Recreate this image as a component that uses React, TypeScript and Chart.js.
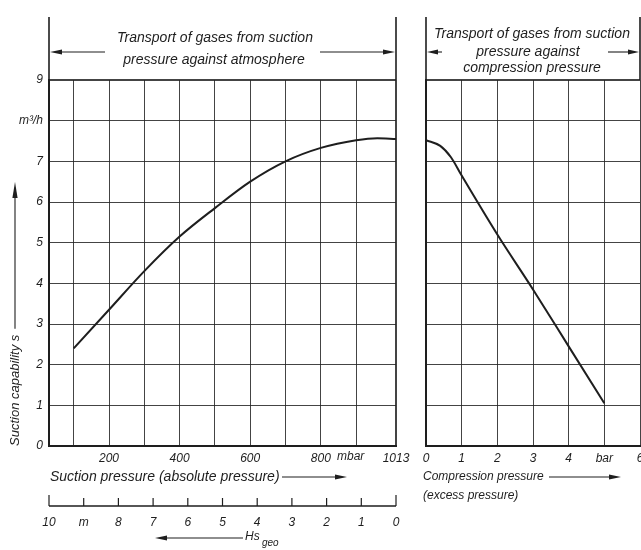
import React, { useEffect, useRef } from "react";
import { Chart, registerables } from "chart.js";

Chart.register(...registerables);

// ---- data ----
const leftPressure = [100, 200, 300, 400, 500, 600, 700, 800, 900, 960, 1013];
const leftSuction = [2.4, 3.35, 4.3, 5.15, 5.85, 6.5, 7.0, 7.33, 7.52, 7.57, 7.55];
const leftTickValues = [100, 200, 300, 400, 500, 600, 700, 800, 900, 1013];
const leftTickLabels = ["", "200", "", "400", "", "600", "", "800", "", "1013"];

const rightPressure = [0, 0.4, 0.7, 1, 2, 3, 4, 5];
const rightSuction = [7.52, 7.38, 7.1, 6.65, 5.2, 3.85, 2.45, 1.05];
const rightTickLabels = ["0", "1", "2", "3", "4", "bar", "6"];

const yTickLabels = ["0", "1", "2", "3", "4", "5", "6", "7", "m³/h", "9"];

const hsTickValues = [0, 1, 2, 3, 4, 5, 6, 7, 8, 9, 10];
const hsTickLabels = ["0", "1", "2", "3", "4", "5", "6", "7", "8", "m", "10"];

const FONT = "'Liberation Sans', Arial, sans-serif";
const INK = "#1e1e1e";
const GRID = "rgba(35,35,35,0.85)";

function arrow(ctx: CanvasRenderingContext2D, x1: number, y1: number, x2: number, y2: number, head = 12, half = 2.6) {
  ctx.save();
  ctx.strokeStyle = INK;
  ctx.fillStyle = INK;
  ctx.lineWidth = 1.1;
  const a = Math.atan2(y2 - y1, x2 - x1);
  ctx.beginPath();
  ctx.moveTo(x1, y1);
  ctx.lineTo(x2 - Math.cos(a) * head * 0.8, y2 - Math.sin(a) * head * 0.8);
  ctx.stroke();
  ctx.translate(x2, y2);
  ctx.rotate(a);
  ctx.beginPath();
  ctx.moveTo(0, 0);
  ctx.lineTo(-head, -half);
  ctx.lineTo(-head, half);
  ctx.closePath();
  ctx.fill();
  ctx.restore();
}

function vline(ctx: CanvasRenderingContext2D, x: number, y1: number, y2: number, w = 1.6) {
  ctx.save();
  ctx.strokeStyle = INK;
  ctx.lineWidth = w;
  ctx.beginPath();
  ctx.moveTo(x, y1);
  ctx.lineTo(x, y2);
  ctx.stroke();
  ctx.restore();
}

const leftDecor = {
  id: "leftDecor",
  afterDraw(chart: any) {
    const ctx: CanvasRenderingContext2D = chart.ctx;
    const { left, right, top, bottom } = chart.chartArea;
    ctx.save();
    // top bracket
    vline(ctx, left, 17, top);
    vline(ctx, right, 17, top);
    arrow(ctx, left + 56, 52, left + 1, 52);
    arrow(ctx, right - 76, 52, right - 1, 52);
    ctx.fillStyle = INK;
    ctx.font = `italic 14px ${FONT}`;
    ctx.textAlign = "center";
    ctx.textBaseline = "middle";
    ctx.fillText("Transport of gases from suction", 215, 38);
    ctx.fillText("pressure against atmosphere", 214, 60);

    // mbar unit
    ctx.font = `italic 12px ${FONT}`;
    ctx.textAlign = "left";
    ctx.fillText("mbar", 337, bottom + 11);

    // x title
    ctx.font = `italic 14px ${FONT}`;
    ctx.fillText("Suction pressure (absolute pressure)", 50, 477);
    arrow(ctx, 282, 477, 347, 477);

    // Hs geo scale
    const hs = chart.scales.xh;
    const yLine = 506;
    ctx.strokeStyle = INK;
    ctx.lineWidth = 1.5;
    ctx.beginPath();
    ctx.moveTo(hs.getPixelForValue(10), yLine);
    ctx.lineTo(hs.getPixelForValue(0), yLine);
    ctx.stroke();
    ctx.lineWidth = 1.2;
    ctx.font = `italic 12px ${FONT}`;
    ctx.textAlign = "center";
    hsTickValues.forEach((v, i) => {
      const x = hs.getPixelForValue(v);
      const end = v === 0 || v === 10;
      ctx.beginPath();
      ctx.moveTo(x, yLine);
      ctx.lineTo(x, yLine - (end ? 11 : 8));
      ctx.stroke();
      ctx.fillText(hsTickLabels[i], x, 523);
    });
    arrow(ctx, 243, 538, 155, 538);
    ctx.textAlign = "left";
    ctx.font = `italic 12px ${FONT}`;
    ctx.fillText("Hs", 245, 537);
    ctx.font = `italic 10px ${FONT}`;
    ctx.fillText("geo", 262, 543);

    // y title
    ctx.save();
    ctx.translate(15, 446);
    ctx.rotate(-Math.PI / 2);
    ctx.font = `italic 13px ${FONT}`;
    ctx.textAlign = "left";
    ctx.textBaseline = "middle";
    ctx.fillText("Suction capability s", 0, 0);
    const w = ctx.measureText("Suction capability s").width;
    arrow(ctx, w + 6, 0, 264, 0, 16, 2.6);
    ctx.restore();
    ctx.restore();
  },
};

const rightDecor = {
  id: "rightDecor",
  afterDraw(chart: any) {
    const ctx: CanvasRenderingContext2D = chart.ctx;
    const { left, right, top } = chart.chartArea;
    ctx.save();
    vline(ctx, left, 17, top);
    vline(ctx, right, 17, top);
    arrow(ctx, left + 16, 52, left + 1, 52, 11);
    arrow(ctx, left + 182, 52, right - 1, 52, 11);
    ctx.fillStyle = INK;
    ctx.font = `italic 14px ${FONT}`;
    ctx.textAlign = "center";
    ctx.textBaseline = "middle";
    ctx.fillText("Transport of gases from suction", 132, 34);
    ctx.fillText("pressure against", 128, 52);
    ctx.fillText("compression pressure", 132, 68);

    ctx.textAlign = "left";
    ctx.font = `italic 12px ${FONT}`;
    ctx.fillText("Compression pressure", 23, 477);
    arrow(ctx, 149, 477, 221, 477);
    ctx.fillText("(excess pressure)", 23, 496);
    ctx.restore();
  },
};

function commonY(showLabels: boolean, width: number) {
  return {
    type: "linear",
    min: 0,
    max: 9,
    ticks: {
      display: showLabels,
      stepSize: 1,
      padding: 6,
      color: INK,
      font: { family: FONT, size: 12, style: "italic" },
      callback: (v: number) => yTickLabels[v] ?? "",
    },
    grid: {
      color: GRID,
      lineWidth: (c: any) => (c.tick && c.tick.value === 9 ? 2 : 1),
      drawTicks: false,
    },
    border: { display: true, color: INK, width: 2 },
    afterFit: (s: any) => {
      s.width = width;
    },
  };
}

export default function App() {
  const leftRef = useRef<HTMLCanvasElement>(null);
  const rightRef = useRef<HTMLCanvasElement>(null);

  useEffect(() => {
    const left = new Chart(leftRef.current!, {
      type: "line",
      data: {
        datasets: [
          {
            data: leftPressure.map((x, i) => ({ x, y: leftSuction[i] })),
            borderColor: INK,
            borderWidth: 2,
            pointRadius: 0,
            cubicInterpolationMode: "monotone",
            xAxisID: "x",
            yAxisID: "y",
          },
        ],
      },
      options: {
        responsive: false,
        animation: false,
        devicePixelRatio: 1,
        layout: { padding: { left: 0, right: 24, top: 80, bottom: 0 } },
        plugins: { legend: { display: false }, tooltip: { enabled: false } },
        scales: {
          x: {
            type: "linear",
            min: 30,
            max: 1013,
            afterBuildTicks: (s: any) => {
              s.ticks = leftTickValues.map((v) => ({ value: v }));
            },
            ticks: {
              autoSkip: false,
              maxRotation: 0,
              padding: 5,
              color: INK,
              font: { family: FONT, size: 12, style: "italic" },
              callback: (_v: any, i: number) => leftTickLabels[i],
            },
            grid: {
              color: GRID,
              lineWidth: (c: any) => (c.tick && c.tick.value === 1013 ? 2 : 1),
              drawTicks: false,
            },
            border: { display: true, color: INK, width: 2 },
            afterFit: (s: any) => {
              s.height = 104;
            },
          },
          xh: {
            type: "linear",
            display: false,
            position: "bottom",
            min: 0,
            max: 10,
            reverse: true,
          },
          y: commonY(true, 49) as any,
        },
      } as any,
      plugins: [leftDecor],
    });

    const right = new Chart(rightRef.current!, {
      type: "line",
      data: {
        datasets: [
          {
            data: rightPressure.map((x, i) => ({ x, y: rightSuction[i] })),
            borderColor: INK,
            borderWidth: 2,
            pointRadius: 0,
            cubicInterpolationMode: "monotone",
          },
        ],
      },
      options: {
        responsive: false,
        animation: false,
        devicePixelRatio: 1,
        layout: { padding: { left: 0, right: 20, top: 80, bottom: 0 } },
        plugins: { legend: { display: false }, tooltip: { enabled: false } },
        scales: {
          x: {
            type: "linear",
            min: 0,
            max: 6,
            ticks: {
              stepSize: 1,
              autoSkip: false,
              maxRotation: 0,
              padding: 5,
              color: INK,
              font: { family: FONT, size: 12, style: "italic" },
              callback: (v: number) => rightTickLabels[v] ?? "",
            },
            grid: { color: GRID, lineWidth: 1, drawTicks: false },
            border: { display: true, color: INK, width: 2 },
            afterFit: (s: any) => {
              s.height = 104;
            },
          },
          y: commonY(false, 26) as any,
        },
      } as any,
      plugins: [rightDecor],
    });

    return () => {
      left.destroy();
      right.destroy();
    };
  }, []);

  return (
    <div
      style={{
        position: "fixed",
        left: 0,
        top: 0,
        width: 641,
        height: 550,
        overflow: "hidden",
        background: "#fff",
      }}
    >
      <canvas
        ref={leftRef}
        width={420}
        height={550}
        style={{ position: "absolute", left: 0, top: 0, width: 420, height: 550 }}
      />
      <canvas
        ref={rightRef}
        width={260}
        height={550}
        style={{ position: "absolute", left: 400, top: 0, width: 260, height: 550 }}
      />
    </div>
  );
}
